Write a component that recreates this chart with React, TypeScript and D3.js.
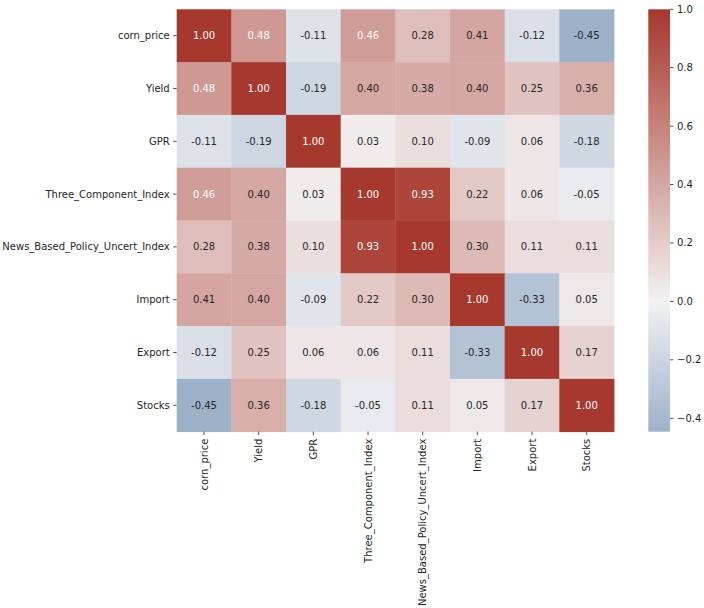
import React from "react";
import * as d3 from "d3";

const labels = [
  "corn_price",
  "Yield",
  "GPR",
  "Three_Component_Index",
  "News_Based_Policy_Uncert_Index",
  "Import",
  "Export",
  "Stocks",
];
const cornPrice = [1.0, 0.48, -0.11, 0.46, 0.28, 0.41, -0.12, -0.446];
const yieldRow = [0.48, 1.0, -0.19, 0.4, 0.38, 0.4, 0.25, 0.36];
const gpr = [-0.11, -0.19, 1.0, 0.03, 0.1, -0.09, 0.06, -0.18];
const threeComp = [0.46, 0.4, 0.03, 1.0, 0.93, 0.22, 0.06, -0.05];
const newsBased = [0.28, 0.38, 0.1, 0.93, 1.0, 0.3, 0.11, 0.11];
const importRow = [0.41, 0.4, -0.09, 0.22, 0.3, 1.0, -0.33, 0.05];
const exportRow = [-0.12, 0.25, 0.06, 0.06, 0.11, -0.33, 1.0, 0.17];
const stocks = [-0.446, 0.36, -0.18, -0.05, 0.11, 0.05, 0.17, 1.0];
const matrix = [cornPrice, yieldRow, gpr, threeComp, newsBased, importRow, exportRow, stocks];
const colorbarTicks = [-0.4, -0.2, 0.0, 0.2, 0.4, 0.6, 0.8, 1.0];

// ---- HSLuv (husl) conversion ----
const M = [
  [3.240969941904521, -1.537383177570093, -0.498610760293],
  [-0.96924363628087, 1.87596750150772, 0.041555057407175],
  [0.055630079696993, -0.20397695888897, 1.056971514242878],
];
const refU = 0.19783000664283;
const refV = 0.46831999493879;
const kappa = 903.2962962;
const epsilon = 0.0088564516;

function getBounds(L: number) {
  const res: { slope: number; intercept: number }[] = [];
  const sub1 = Math.pow(L + 16, 3) / 1560896;
  const sub2 = sub1 > epsilon ? sub1 : L / kappa;
  for (let c = 0; c < 3; c++) {
    const [m1, m2, m3] = M[c];
    for (let t = 0; t < 2; t++) {
      const top1 = (284517 * m1 - 94839 * m3) * sub2;
      const top2 = (838422 * m3 + 769860 * m2 + 731718 * m1) * L * sub2 - 769860 * t * L;
      const bottom = (632260 * m3 - 126452 * m2) * sub2 + 126452 * t;
      res.push({ slope: top1 / bottom, intercept: top2 / bottom });
    }
  }
  return res;
}
function maxChroma(L: number, H: number) {
  const hrad = (H / 360) * Math.PI * 2;
  let min = Infinity;
  for (const b of getBounds(L)) {
    const len = b.intercept / (Math.sin(hrad) - b.slope * Math.cos(hrad));
    if (len >= 0) min = Math.min(min, len);
  }
  return min;
}
function husl(H: number, S: number, L: number): number[] {
  const C = L > 99.9999999 || L < 1e-8 ? 0 : (maxChroma(L, H) / 100) * S;
  const hrad = (H / 180) * Math.PI;
  const U = Math.cos(hrad) * C;
  const V = Math.sin(hrad) * C;
  if (L === 0) return [0, 0, 0];
  const varU = U / (13 * L) + refU;
  const varV = V / (13 * L) + refV;
  const Y = L <= 8 ? L / kappa : Math.pow((L + 16) / 116, 3);
  const X = 0 - (9 * Y * varU) / ((varU - 4) * varV - varU * varV);
  const Z = (9 * Y - 15 * varV * Y - varV * X) / (3 * varV);
  const f = (c: number) => (c <= 0.0031308 ? 12.92 * c : 1.055 * Math.pow(c, 1 / 2.4) - 0.055);
  return M.map((r) => Math.min(1, Math.max(0, f(r[0] * X + r[1] * Y + r[2] * Z))));
}

const negEnd = husl(250, 75, 40);
const posEnd = husl(15, 75, 40);
const negGray = husl(250, 75 * 0.15, 95);
const posGray = husl(15, 75 * 0.15, 95);
const mid = [0.95, 0.95, 0.95];
const anchors: [number, number[]][] = [
  [0, negEnd],
  [127 / 256, negGray],
  [128 / 256, mid],
  [129 / 256, posGray],
  [1, posEnd],
];
function cmapRGB(t: number): number[] {
  t = Math.max(0, Math.min(1, t));
  for (let i = 0; i < anchors.length - 1; i++) {
    const [p0, c0] = anchors[i];
    const [p1, c1] = anchors[i + 1];
    if (t <= p1) {
      const k = (t - p0) / (p1 - p0);
      return c0.map((v, j) => v + (c1[j] - v) * k);
    }
  }
  return posEnd;
}
const vmin = d3.min(matrix.flat()) as number;
const vmax = d3.max(matrix.flat()) as number;
const center = 0;
const vrange = Math.max(vmax - center, center - vmin);
const valueToT = d3.scaleLinear().domain([center - vrange, center + vrange]).range([0, 1]);
function colorFor(v: number) {
  const c = cmapRGB(valueToT(v));
  return d3.rgb(c[0] * 255, c[1] * 255, c[2] * 255).formatHex();
}
function textColorFor(v: number) {
  const c = cmapRGB(valueToT(v)).map((x) => (x <= 0.03928 ? x / 12.92 : Math.pow((x + 0.055) / 1.055, 2.4)));
  const lum = 0.2126 * c[0] + 0.7152 * c[1] + 0.0722 * c[2];
  return lum > 0.408 ? "#262626" : "#fff";
}

const W = 704;
const H = 608;
const left = 176.7;
const right = 614;
const top = 9.3;
const bottom = 431.7;
const cbLeft = 648.3;
const cbRight = 670;
const FONT = "'DejaVu Sans', sans-serif";

export default function App() {
  const x = d3.scaleBand<string>().domain(labels).range([left, right]);
  const y = d3.scaleBand<string>().domain(labels).range([top, bottom]);
  const cbY = d3.scaleLinear().domain([vmin, vmax]).range([bottom, top]);
  const gradStops = d3.range(0, 101).map((i) => {
    const v = vmin + ((vmax - vmin) * i) / 100;
    return { off: i, color: colorFor(v) };
  });
  const fmtCb = (v: number) => d3.format(".1f")(v).replace("-", "\u2212");

  return (
    <svg
      width={W}
      height={H}
      style={{ position: "absolute", left: 0, top: 0, background: "#fff" }}
      fontFamily={FONT}
    >
      <defs>
        <linearGradient id="cbgrad" x1="0" y1="1" x2="0" y2="0">
          {gradStops.map((s) => (
            <stop key={s.off} offset={`${s.off}%`} stopColor={s.color} />
          ))}
        </linearGradient>
      </defs>
      {matrix.map((row, ri) =>
        row.map((v, ci) => (
          <g key={`${ri}-${ci}`}>
            <rect
              x={x(labels[ci])}
              y={y(labels[ri])}
              width={x.bandwidth() + 0.4}
              height={y.bandwidth() + 0.4}
              fill={colorFor(v)}
            />
            <text
              x={(x(labels[ci]) as number) + x.bandwidth() / 2}
              y={(y(labels[ri]) as number) + y.bandwidth() / 2}
              textAnchor="middle"
              dominantBaseline="central"
              fontSize={10}
              fill={textColorFor(v)}
            >
              {v.toFixed(2)}
            </text>
          </g>
        ))
      )}
      {labels.map((l) => {
        const cy = (y(l) as number) + y.bandwidth() / 2;
        return (
          <g key={`y-${l}`}>
            <line x1={left - 3.5} x2={left} y1={cy} y2={cy} stroke="#262626" strokeWidth={0.8} />
            <text x={left - 7} y={cy} textAnchor="end" dominantBaseline="central" fontSize={10} fill="#262626">
              {l}
            </text>
          </g>
        );
      })}
      {labels.map((l) => {
        const cx = (x(l) as number) + x.bandwidth() / 2;
        return (
          <g key={`x-${l}`}>
            <line x1={cx} x2={cx} y1={bottom} y2={bottom + 3.5} stroke="#262626" strokeWidth={0.8} />
            <text
              transform={`translate(${cx},${bottom + 7}) rotate(-90)`}
              textAnchor="end"
              dominantBaseline="central"
              fontSize={10}
              fill="#262626"
            >
              {l}
            </text>
          </g>
        );
      })}
      <rect x={cbLeft} y={top} width={cbRight - cbLeft} height={bottom - top} fill="url(#cbgrad)" />
      {colorbarTicks.map((t) => (
        <g key={`cb-${t}`}>
          <line x1={cbRight} x2={cbRight + 3.5} y1={cbY(t)} y2={cbY(t)} stroke="#262626" strokeWidth={0.8} />
          <text x={cbRight + 7} y={cbY(t)} dominantBaseline="central" fontSize={10} fill="#262626">
            {fmtCb(t)}
          </text>
        </g>
      ))}
    </svg>
  );
}
